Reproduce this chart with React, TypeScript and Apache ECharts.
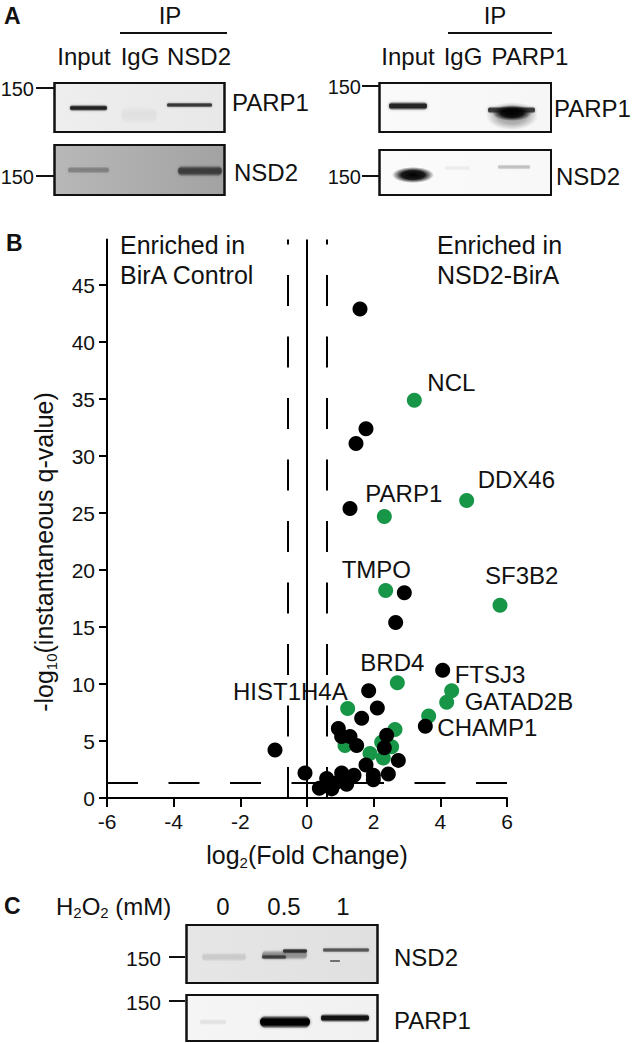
import React, { useEffect, useRef } from 'react';
import * as echarts from 'echarts';

const FONT = '"Liberation Sans", Arial, Helvetica, sans-serif';

// ---------- Volcano plot data: [log2 fold change, -log10 q-value, gene label] ----------
const blackPoints: [number, number, string][] = [
  [1.59, 42.9, ''],
  [1.77, 32.4, ''],
  [1.47, 31.1, ''],
  [1.29, 25.4, ''],
  [2.92, 18.0, ''],
  [2.66, 15.4, ''],
  [4.07, 11.2, 'FTSJ3'],
  [1.85, 9.4, ''],
  [2.11, 7.9, ''],
  [1.64, 7.0, ''],
  [3.55, 6.3, 'CHAMP1'],
  [0.94, 6.1, ''],
  [1.04, 5.4, ''],
  [1.29, 5.4, ''],
  [2.39, 5.5, ''],
  [1.49, 4.6, ''],
  [2.32, 4.4, ''],
  [2.74, 3.3, ''],
  [-0.96, 4.2, ''],
  [1.77, 2.9, ''],
  [-0.06, 2.2, ''],
  [1.04, 2.2, ''],
  [1.41, 2.0, ''],
  [1.99, 2.0, ''],
  [2.44, 2.1, ''],
  [0.59, 1.7, ''],
  [1.19, 1.2, ''],
  [0.74, 0.8, ''],
  [0.37, 0.85, ''],
  [1.99, 1.6, ''],
  [0.84, 1.3, ''],
  [1.09, 1.6, ''],
];

const greenPoints: [number, number, string][] = [
  [3.22, 34.9, 'NCL'],
  [4.79, 26.1, 'DDX46'],
  [2.32, 24.7, 'PARP1'],
  [2.36, 18.2, 'TMPO'],
  [5.79, 16.9, 'SF3B2'],
  [2.71, 10.1, 'BRD4'],
  [4.34, 9.4, ''],
  [4.19, 8.4, 'GATAD2B'],
  [1.22, 7.85, 'HIST1H4A'],
  [3.65, 7.2, ''],
  [2.64, 6.0, ''],
  [1.14, 4.6, ''],
  [2.54, 4.5, ''],
  [2.24, 4.9, ''],
  [1.89, 3.9, ''],
  [2.29, 3.5, ''],
];

const xTicks = [-6, -4, -2, 0, 2, 4, 6];
const yTicks = [0, 5, 10, 15, 20, 25, 30, 35, 40, 45];
const foldCutoffs = [-0.585, 0.585];
const qCutoff = 1.3;

// label placement (style only)
const labelPlacement: Record<string, { align: string; offset: [number, number] }> = {
  NCL: { align: 'left', offset: [13, -18] },
  DDX46: { align: 'left', offset: [11, -21] },
  PARP1: { align: 'left', offset: [-19, -23] },
  TMPO: { align: 'left', offset: [-44, -21] },
  SF3B2: { align: 'left', offset: [-15, -30] },
  BRD4: { align: 'left', offset: [-37, -20] },
  FTSJ3: { align: 'left', offset: [12, 4] },
  GATAD2B: { align: 'left', offset: [18, -1] },
  CHAMP1: { align: 'left', offset: [12, 1] },
  HIST1H4A: { align: 'right', offset: [0, -17] },
};

// ---------- Western blot panel texts ----------
const panelALeftLanes = ['Input', 'IgG', 'NSD2'];
const panelARightLanes = ['Input', 'IgG', 'PARP1'];
const panelCDoses = ['0', '0.5', '1'];
const mwMarker = '150';

function pointData(points: [number, number, string][]) {
  return points.map(([x, y, name]) => {
    const pl = labelPlacement[name];
    return {
      value: [x, y],
      name,
      label: name
        ? {
            show: true,
            position: 'inside',
            formatter: name,
            align: pl.align,
            verticalAlign: 'middle',
            offset: pl.offset,
            fontSize: 24,
            fontFamily: FONT,
            color: '#111',
            opacity: 1,
          }
        : { show: false },
    };
  });
}

function txt(text: string, x: number, y: number, extra: any = {}) {
  return {
    type: 'text',
    x,
    y,
    z: 20,
    silent: true,
    style: {
      text,
      fontSize: 24,
      fontFamily: FONT,
      fill: '#111',
      align: 'left',
      verticalAlign: 'middle',
      ...extra,
    },
  };
}

function hline(x1: number, x2: number, y: number, w = 2) {
  return {
    type: 'line',
    z: 20,
    silent: true,
    shape: { x1, y1: y, x2, y2: y },
    style: { stroke: '#111', lineWidth: w },
  };
}

function blotBox(x: number, y: number, w: number, h: number, c1: string, c2: string) {
  return {
    type: 'rect',
    z: 5,
    silent: true,
    shape: { x, y, width: w, height: h },
    style: {
      fill: new echarts.graphic.LinearGradient(0, 0, 1, 0, [
        { offset: 0, color: c1 },
        { offset: 1, color: c2 },
      ]),
      stroke: '#111',
      lineWidth: 2,
    },
  };
}

function blotFrame(x: number, y: number, w: number, h: number) {
  return {
    type: 'rect',
    z: 9,
    silent: true,
    shape: { x, y, width: w, height: h },
    style: { fill: 'none', stroke: '#111', lineWidth: 2 },
  };
}

function band(x1: number, x2: number, yc: number, h: number, rgb: string, a: number, blur = 3) {
  return {
    type: 'rect',
    z: 6,
    silent: true,
    shape: { x: x1, y: yc - h / 2, width: x2 - x1, height: h, r: h / 2 },
    style: {
      fill: new echarts.graphic.LinearGradient(0, 0, 0, 1, [
        { offset: 0, color: `rgba(${rgb},0)` },
        { offset: 0.3, color: `rgba(${rgb},${a})` },
        { offset: 0.7, color: `rgba(${rgb},${a})` },
        { offset: 1, color: `rgba(${rgb},0)` },
      ]),
      shadowBlur: blur,
      shadowColor: `rgba(${rgb},${a * 0.6})`,
    },
  };
}

function blob(cx: number, cy: number, rx: number, ry: number, rgb: string, a: number) {
  return {
    type: 'ellipse',
    z: 7,
    silent: true,
    shape: { cx, cy, rx, ry },
    style: {
      fill: new echarts.graphic.RadialGradient(0.5, 0.5, 0.5, [
        { offset: 0, color: `rgba(${rgb},${a})` },
        { offset: 0.55, color: `rgba(${rgb},${a * 0.9})` },
        { offset: 1, color: `rgba(${rgb},0)` },
      ]),
    },
  };
}

function buildGraphic() {
  const g: any[] = [];
  const sub = { fontSize: 15, lineHeight: 15, verticalAlign: 'bottom', fontFamily: FONT, fill: '#111' };

  // ----- Panel A -----
  g.push(txt('A', 4, 16, { fontSize: 23, fontWeight: 'bold' }));
  g.push(txt('IP', 170, 15, { align: 'center' }));
  g.push(hline(120, 227, 33));
  [84, 140, 199].forEach((cx, i) => g.push(txt(panelALeftLanes[i], cx, 56, { align: 'center' })));
  g.push(txt('IP', 495, 15, { align: 'center' }));
  g.push(hline(448, 552, 33));
  [408, 463, 530].forEach((cx, i) => g.push(txt(panelARightLanes[i], cx, 56, { align: 'center' })));

  // left top blot (PARP1)
  g.push(blotBox(54.5, 83, 170, 49, '#eeeeee', '#e8e8e8'));
  g.push(band(70, 107, 108, 6, '25,25,25', 0.9, 2));
  g.push(band(121, 157, 115, 18, '185,185,185', 0.18, 5));
  g.push(band(167, 212, 105, 5, '35,35,35', 0.85, 2));
  g.push(blotFrame(54.5, 83, 170, 49));
  g.push(txt(mwMarker, 34, 89, { align: 'right', fontSize: 20 }));
  g.push(hline(36, 55, 88));
  g.push(txt('PARP1', 232, 102));

  // left bottom blot (NSD2)
  g.push(blotBox(54.5, 145, 170, 50, '#b8b8b8', '#a2a2a2'));
  g.push(band(68, 109, 170, 7, '80,80,80', 0.45, 3));
  g.push(band(178, 222, 171, 11, '40,40,40', 0.75, 3));
  g.push(blotFrame(54.5, 145, 170, 50));
  g.push(txt(mwMarker, 34, 177, { align: 'right', fontSize: 20 }));
  g.push(hline(36, 55, 176));
  g.push(txt('NSD2', 234, 172));

  // right top blot (PARP1)
  g.push(blotBox(379.5, 83, 171.5, 49, '#fafafa', '#f6f6f6'));
  g.push(band(389, 427, 106, 8, '20,20,20', 0.9, 3));
  g.push(blob(512, 116, 26, 14, '70,70,70', 0.45));
  g.push(blob(512, 113, 20, 8, '0,0,0', 1));
  g.push(band(488, 535, 110, 7, '20,20,20', 0.8, 3));
  g.push(blotFrame(379.5, 83, 171.5, 49));
  g.push(txt(mwMarker, 361, 87, { align: 'right', fontSize: 20 }));
  g.push(hline(362, 380, 86));
  g.push(txt('PARP1', 554, 108));

  // right bottom blot (NSD2)
  g.push(blotBox(379.5, 150, 171.5, 45, '#fbfbfb', '#f8f8f8'));
  g.push(blob(413, 175, 21, 8, '0,0,0', 1));
  g.push(band(445, 470, 168, 5, '200,200,200', 0.25, 3));
  g.push(band(498, 530, 167, 5, '150,150,150', 0.5, 2));
  g.push(blotFrame(379.5, 150, 171.5, 45));
  g.push(txt(mwMarker, 361, 177, { align: 'right', fontSize: 20 }));
  g.push(hline(362, 380, 176));
  g.push(txt('NSD2', 556, 176));

  // ----- Panel B annotations -----
  g.push(txt('B', 6, 243, { fontSize: 23, fontWeight: 'bold' }));
  g.push(txt('Enriched in', 120, 245, { fontSize: 25 }));
  g.push(txt('BirA Control', 120, 275, { fontSize: 25 }));
  g.push(txt('Enriched in', 437, 245, { fontSize: 25 }));
  g.push(txt('NSD2-BirA', 437, 275, { fontSize: 25 }));

  // axis titles
  g.push({
    type: 'text',
    x: 44,
    y: 552,
    rotation: Math.PI / 2,
    z: 20,
    silent: true,
    style: {
      text: '-log{sub|10}(instantaneous q-value)',
      fontSize: 25,
      lineHeight: 30,
      fontFamily: FONT,
      fill: '#111',
      align: 'center',
      verticalAlign: 'middle',
      rich: { sub },
    },
  });
  g.push({
    type: 'text',
    x: 307,
    y: 855,
    z: 20,
    silent: true,
    style: {
      text: 'log{sub|2}(Fold Change)',
      fontSize: 25,
      lineHeight: 30,
      fontFamily: FONT,
      fill: '#111',
      align: 'center',
      verticalAlign: 'middle',
      rich: { sub },
    },
  });

  // ----- Panel C -----
  g.push(txt('C', 4, 906, { fontSize: 23, fontWeight: 'bold' }));
  g.push({
    type: 'text',
    x: 56,
    y: 906,
    z: 20,
    silent: true,
    style: {
      text: 'H{sub|2}O{sub|2} (mM)',
      fontSize: 24,
      lineHeight: 28,
      fontFamily: FONT,
      fill: '#111',
      align: 'left',
      verticalAlign: 'middle',
      rich: { sub },
    },
  });
  [223, 284, 343].forEach((cx, i) => g.push(txt(panelCDoses[i], cx, 906, { align: 'center' })));

  // NSD2 blot
  g.push(blotBox(186.5, 925, 191, 58, '#e6e6e6', '#e0e0e0'));
  g.push(band(202, 246, 957, 9, '150,150,150', 0.3, 3));
  g.push(band(262, 307, 955, 10, '70,70,70', 0.45, 3));
  g.push(band(283, 307, 951, 5, '25,25,25', 0.8, 2));
  g.push(band(262, 286, 957, 5, '35,35,35', 0.7, 2));
  g.push(band(323, 369, 950, 5, '45,45,45', 0.7, 2));
  g.push(band(330, 340, 961, 3, '60,60,60', 0.6, 1));
  g.push(blotFrame(186.5, 925, 191, 58));
  g.push(txt(mwMarker, 161, 958, { align: 'right', fontSize: 21 }));
  g.push(hline(169, 185, 957));
  g.push(txt('NSD2', 394, 957));

  // PARP1 blot
  g.push(blotBox(186.5, 995, 191, 46, '#f5f5f5', '#f1f1f1'));
  g.push(band(200, 226, 1022, 6, '190,190,190', 0.3, 2));
  g.push(band(260, 310, 1022, 13, '0,0,0', 1, 3));
  g.push(band(321, 369, 1018, 8, '10,10,10', 0.95, 2));
  g.push(blotFrame(186.5, 995, 191, 46));
  g.push(txt(mwMarker, 161, 1002, { align: 'right', fontSize: 21 }));
  g.push(hline(169, 185, 1001));
  g.push(txt('PARP1', 394, 1020));

  return g;
}

export default function App() {
  const ref = useRef<HTMLDivElement>(null);

  useEffect(() => {
    if (!ref.current) return;
    const chart = echarts.init(ref.current, undefined, { renderer: 'svg' });
    const axisLineStyle = { color: '#000', width: 2 };
    const option: any = {
      animation: false,
      textStyle: { fontFamily: FONT },
      grid: { left: 107, top: 239.4, width: 400, height: 558.6, containLabel: false },
      xAxis: {
        type: 'value',
        min: xTicks[0],
        max: xTicks[xTicks.length - 1],
        interval: 2,
        axisLine: { show: true, onZero: false, lineStyle: axisLineStyle },
        axisTick: { show: true, length: 9, lineStyle: axisLineStyle },
        axisLabel: { fontSize: 21, color: '#111', margin: 13, fontFamily: FONT },
        splitLine: { show: false },
      },
      yAxis: {
        type: 'value',
        min: 0,
        max: 49,
        axisLine: { show: true, onZero: false, lineStyle: axisLineStyle },
        axisTick: { show: true, length: 8, lineStyle: axisLineStyle, customValues: yTicks },
        axisLabel: { fontSize: 21, color: '#111', margin: 12, fontFamily: FONT, customValues: yTicks },
        splitLine: { show: false },
      },
      series: [
        {
          type: 'scatter',
          data: [],
          z: 1,
          silent: true,
          markLine: {
            silent: true,
            symbol: 'none',
            animation: false,
            label: { show: false },
            data: [
              ...foldCutoffs.map((v) => ({
                xAxis: v,
                lineStyle: { type: [31, 30.5], width: 2, color: '#000', opacity: 1 },
              })),
              { xAxis: 0, lineStyle: { type: 'solid', width: 2, color: '#000', opacity: 1 } },
              { yAxis: qCutoff, lineStyle: { type: [31, 30.5], width: 2, color: '#000', opacity: 1 } },
            ],
          },
        },
        {
          type: 'scatter',
          name: 'green',
          data: pointData(greenPoints),
          symbolSize: 15,
          itemStyle: { color: '#189648', opacity: 1 },
          z: 3,
        },
        {
          type: 'scatter',
          name: 'black',
          data: pointData(blackPoints),
          symbolSize: 15,
          itemStyle: { color: '#000', opacity: 1 },
          z: 4,
        },
      ],
      graphic: buildGraphic(),
    };
    chart.setOption(option);
    return () => chart.dispose();
  }, []);

  return (
    <div
      ref={ref}
      style={{ position: 'absolute', left: 0, top: 0, width: 633, height: 1043, background: '#fff' }}
    />
  );
}
